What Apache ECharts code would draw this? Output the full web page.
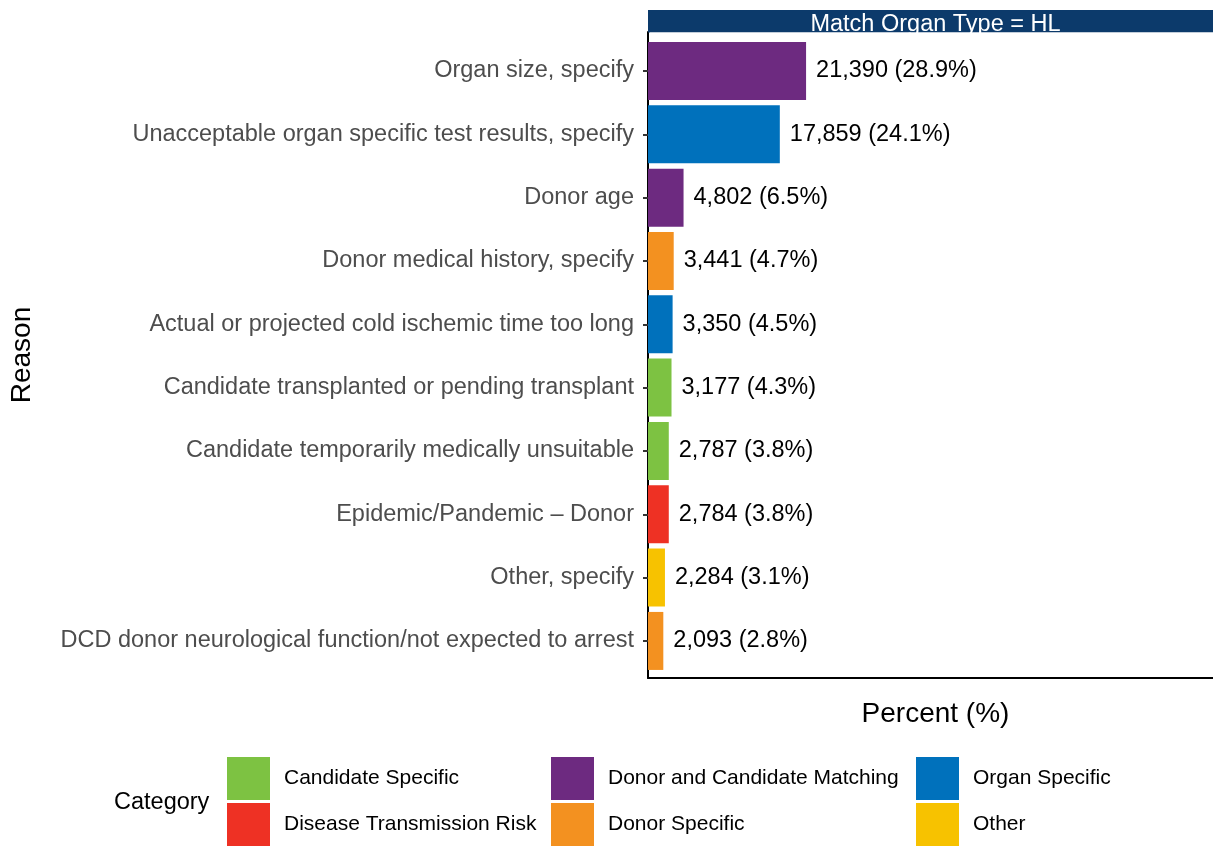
<!DOCTYPE html>
<html>
<head>
<meta charset="utf-8">
<script src="https://cdn.jsdelivr.net/npm/echarts@6/dist/echarts.min.js"></script>
<style>
  html, body { margin: 0; padding: 0; background: #fff; }
  #grafico { width: 1213px; height: 846px; }
</style>
</head>
<body>
<div id="grafico"></div>
<script>
const reasons = [
    "Organ size, specify",
    "Unacceptable organ specific test results, specify",
    "Donor age",
    "Donor medical history, specify",
    "Actual or projected cold ischemic time too long",
    "Candidate transplanted or pending transplant",
    "Candidate temporarily medically unsuitable",
    "Epidemic/Pandemic \u2013 Donor",
    "Other, specify",
    "DCD donor neurological function/not expected to arrest"
];
const counts = [21390, 17859, 4802, 3441, 3350, 3177, 2787, 2784, 2284, 2093];
const percents = [28.9, 24.1, 6.5, 4.7, 4.5, 4.3, 3.8, 3.8, 3.1, 2.8];
const reasonCategory = [
    "Donor and Candidate Matching",
    "Organ Specific",
    "Donor and Candidate Matching",
    "Donor Specific",
    "Organ Specific",
    "Candidate Specific",
    "Candidate Specific",
    "Disease Transmission Risk",
    "Other",
    "Donor Specific"
];
const categories = [
    "Candidate Specific",
    "Disease Transmission Risk",
    "Donor and Candidate Matching",
    "Donor Specific",
    "Organ Specific",
    "Other"
];
const categoryColors = ["#7DC242", "#EE3124", "#6D2A80", "#F39120", "#0071BC", "#F7C200"];
const stripText = "Match Organ Type = HL";

const fuente = "'Liberation Sans', Arial, Helvetica, sans-serif";

const contenedor = document.getElementById("grafico");
const miGrafico = echarts.init(contenedor, null, { renderer: "canvas" });

// una serie por categoria, apiladas para que compartan la misma posicion
const series = categories.map((cat, c) => ({
    name: cat,
    type: "bar",
    stack: "total",
    xAxisIndex: 1,
    yAxisIndex: 1,
    barWidth: 58,
    itemStyle: { color: categoryColors[c] },
    data: reasons.map((r, i) => reasonCategory[i] === cat ? percents[i] : "-"),
    label: {
        show: true,
        position: "right",
        distance: 10,
        fontSize: 23.5,
        color: "#000",
        fontFamily: fuente,
        padding: [4, 0, 0, 0],
        formatter: p => counts[p.dataIndex].toLocaleString("en-US") + " (" + percents[p.dataIndex].toFixed(1) + "%)"
    }
}));

const legendBase = {
    orient: "vertical",
    top: 757,
    padding: 0,
    itemWidth: 43,
    itemHeight: 43,
    itemGap: 3,
    icon: "rect",
    selectedMode: false,
    textStyle: { fontSize: 21, color: "#000", fontFamily: fuente, padding: [4, 0, 0, 9] }
};

const opciones = {
    animation: false,
    textStyle: { fontFamily: fuente },
    title: {
        text: "Category",
        left: 114,
        top: 791,
        padding: 0,
        textStyle: { fontSize: 23.5, fontWeight: "normal", color: "#000", fontFamily: fuente }
    },
    legend: [
        Object.assign({}, legendBase, { left: 227, data: categories.slice(0, 2) }),
        Object.assign({}, legendBase, { left: 551, data: categories.slice(2, 4) }),
        Object.assign({}, legendBase, { left: 916, data: categories.slice(4, 6) })
    ],
    grid: [
        { left: 648, top: 32, right: 0, height: 646 },
        { left: 648, top: 39.3, right: 0, height: 633.3 }
    ],
    xAxis: [
        {
            gridIndex: 0,
            type: "value",
            min: 0,
            max: 1,
            axisLine: { show: true, lineStyle: { color: "#000", width: 2 } },
            axisTick: { show: false },
            axisLabel: { show: false },
            splitLine: { show: false },
            name: "Percent (%)",
            nameLocation: "middle",
            nameGap: 22,
            nameTextStyle: { fontSize: 28, color: "#000", fontFamily: fuente, padding: [0, 0, 0, 10] }
        },
        {
            gridIndex: 1,
            type: "value",
            min: 0,
            max: 103.3,
            show: false
        }
    ],
    yAxis: [
        {
            gridIndex: 0,
            type: "value",
            min: 0,
            max: 1,
            axisLine: { show: true, lineStyle: { color: "#000", width: 2 } },
            axisTick: { show: false },
            axisLabel: { show: false },
            splitLine: { show: false },
            name: "Reason",
            nameLocation: "middle",
            nameGap: 612,
            nameTextStyle: { fontSize: 28, color: "#000", fontFamily: fuente }
        },
        {
            gridIndex: 1,
            type: "category",
            inverse: true,
            data: reasons,
            axisLine: { show: false },
            axisTick: { show: true, alignWithLabel: true, length: 5, lineStyle: { color: "#333", width: 2 } },
            axisLabel: { fontSize: 23.5, color: "#4D4D4D", margin: 14, fontFamily: fuente, padding: [4, 0, 0, 0] },
            splitLine: { show: false }
        }
    ],
    graphic: [
        {
            type: "rect",
            z: 10,
            shape: { x: 648, y: 10, width: 575, height: 22.5 },
            style: { fill: "#0C3A6B" }
        },
        {
            type: "text",
            z: 11,
            style: {
                text: stripText,
                x: 935.5,
                y: 24.5,
                align: "center",
                verticalAlign: "middle",
                font: "23.5px " + fuente,
                fill: "#fff"
            }
        },
        {
            type: "rect",
            z: 12,
            shape: { x: 650, y: 32.5, width: 573, height: 6 },
            style: { fill: "#fff" }
        }
    ],
    series: series
};

miGrafico.setOption(opciones);
</script>
</body>
</html>
